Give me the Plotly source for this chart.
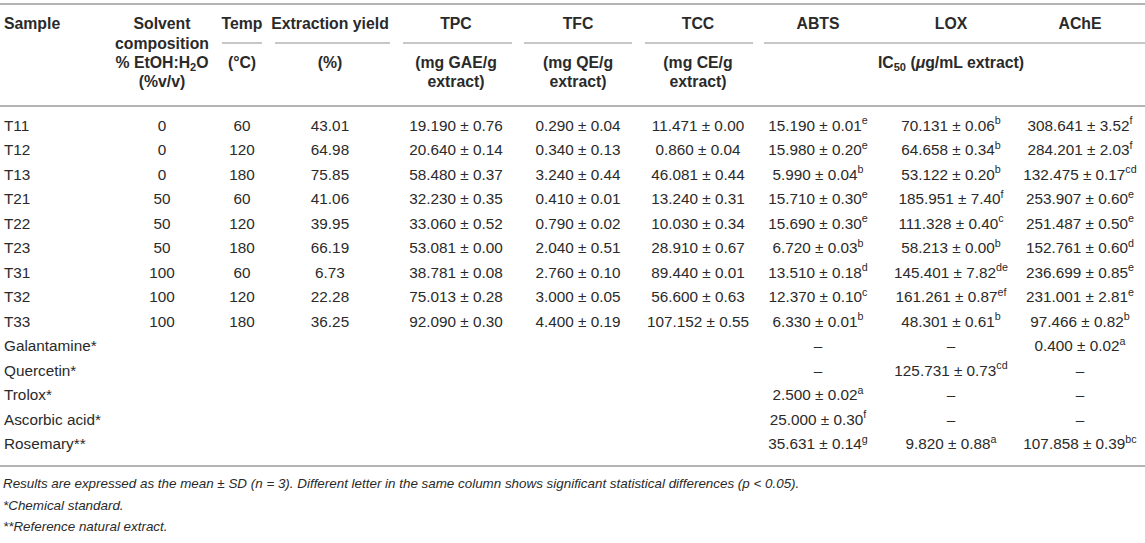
import plotly.graph_objects as go

# table values
samples = ["T11", "T12", "T13", "T21", "T22", "T23", "T31", "T32", "T33"]
standards = ["Galantamine*", "Quercetin*", "Trolox*", "Ascorbic acid*", "Rosemary**"]
solvent = [0, 0, 0, 50, 50, 50, 100, 100, 100]
temp = [60, 120, 180, 60, 120, 180, 60, 120, 180]
ext_yield = [43.01, 64.98, 75.85, 41.06, 39.95, 66.19, 6.73, 22.28, 36.25]

tpc_mean = [19.190, 20.640, 58.480, 32.230, 33.060, 53.081, 38.781, 75.013, 92.090]
tpc_sd = [0.76, 0.14, 0.37, 0.35, 0.52, 0.00, 0.08, 0.28, 0.30]
tfc_mean = [0.290, 0.340, 3.240, 0.410, 0.790, 2.040, 2.760, 3.000, 4.400]
tfc_sd = [0.04, 0.13, 0.44, 0.01, 0.02, 0.51, 0.10, 0.05, 0.19]
tcc_mean = [11.471, 0.860, 46.081, 13.240, 10.030, 28.910, 89.440, 56.600, 107.152]
tcc_sd = [0.00, 0.04, 0.44, 0.31, 0.34, 0.67, 0.01, 0.63, 0.55]

# IC50 columns: samples followed by the 5 standards (None = not tested, shown as a dash)
abts_mean = [15.190, 15.980, 5.990, 15.710, 15.690, 6.720, 13.510, 12.370, 6.330,
             None, None, 2.500, 25.000, 35.631]
abts_sd = [0.01, 0.20, 0.04, 0.30, 0.30, 0.03, 0.18, 0.10, 0.01,
           None, None, 0.02, 0.30, 0.14]
abts_let = ["e", "e", "b", "e", "e", "b", "d", "c", "b", None, None, "a", "f", "g"]
lox_mean = [70.131, 64.658, 53.122, 185.951, 111.328, 58.213, 145.401, 161.261, 48.301,
            None, 125.731, None, None, 9.820]
lox_sd = [0.06, 0.34, 0.20, 7.40, 0.40, 0.00, 7.82, 0.87, 0.61,
          None, 0.73, None, None, 0.88]
lox_let = ["b", "b", "b", "f", "c", "b", "de", "ef", "b", None, "cd", None, None, "a"]
ache_mean = [308.641, 284.201, 132.475, 253.907, 251.487, 152.761, 236.699, 231.001, 97.466,
             0.400, None, None, None, 107.858]
ache_sd = [3.52, 2.03, 0.17, 0.60, 0.50, 0.60, 0.85, 2.81, 0.82,
           0.02, None, None, None, 0.39]
ache_let = ["f", "f", "cd", "e", "e", "d", "e", "e", "b", "a", None, None, None, "bc"]

footnotes = [
    "Results are expressed as the mean ± SD (n = 3). Different letter in the same column "
    "shows significant statistical differences (p &lt; 0.05).",
    "*Chemical standard.",
    "**Reference natural extract.",
]

FONT = "Liberation Sans, Arial, Helvetica, sans-serif"
TXT = "#2a2a2a"
RULE = "#b4b4b4"
FS = 15.3
FS_HEAD = 15.8
FS_NOTE = 13.4

# column centres (px) and row geometry
COL = dict(solvent=162, temp=242, ext=330, tpc=456, tfc=578, tcc=698,
           abts=818, lox=951, ache=1080)
LEFT = 3
ROW0, ROW_H = 127, 24.5
HL = [25, 45, 64, 83]  # header text lines


def pm(m, s, let=None):
    if m is None:
        return "–"
    t = f"{m:.3f} ± {s:.2f}"
    if let:
        t += f"<sup>{let}</sup>"
    return t


all_rows = samples + standards
row_y = [ROW0 + i * ROW_H for i in range(len(all_rows))]
ns = len(samples)

fig = go.Figure()


def add_col(x, ys, texts, pos="middle center", size=FS, weight="normal", style="normal"):
    fig.add_trace(go.Scatter(
        x=[x] * len(ys), y=ys, text=texts, mode="text", textposition=pos,
        textfont=dict(family=FONT, size=size, color=TXT, weight=weight, style=style),
        cliponaxis=False, hoverinfo="skip", showlegend=False))


# body
add_col(LEFT + 1, row_y, all_rows, pos="middle right")
add_col(COL["solvent"], row_y[:ns], [str(v) for v in solvent])
add_col(COL["temp"], row_y[:ns], [str(v) for v in temp])
add_col(COL["ext"], row_y[:ns], [f"{v:.2f}" for v in ext_yield])
add_col(COL["tpc"], row_y[:ns], [pm(m, s) for m, s in zip(tpc_mean, tpc_sd)])
add_col(COL["tfc"], row_y[:ns], [pm(m, s) for m, s in zip(tfc_mean, tfc_sd)])
add_col(COL["tcc"], row_y[:ns], [pm(m, s) for m, s in zip(tcc_mean, tcc_sd)])
add_col(COL["abts"], row_y, [pm(*v) for v in zip(abts_mean, abts_sd, abts_let)])
add_col(COL["lox"], row_y, [pm(*v) for v in zip(lox_mean, lox_sd, lox_let)])
add_col(COL["ache"], row_y, [pm(*v) for v in zip(ache_mean, ache_sd, ache_let)])

# header
hb = dict(weight="bold", size=FS_HEAD)
add_col(LEFT + 1, [HL[0]], ["Sample"], pos="middle right", **hb)
add_col(COL["solvent"], HL, ["Solvent", "composition", "% EtOH:H<sub>2</sub>O", "(%v/v)"], **hb)
add_col(COL["temp"], [HL[0], HL[2]], ["Temp", "(°C)"], **hb)
add_col(COL["ext"], [HL[0], HL[2]], ["Extraction yield", "(%)"], **hb)
add_col(COL["tpc"], [HL[0], HL[2], HL[3]], ["TPC", "(mg GAE/g", "extract)"], **hb)
add_col(COL["tfc"], [HL[0], HL[2], HL[3]], ["TFC", "(mg QE/g", "extract)"], **hb)
add_col(COL["tcc"], [HL[0], HL[2], HL[3]], ["TCC", "(mg CE/g", "extract)"], **hb)
add_col(COL["abts"], [HL[0]], ["ABTS"], **hb)
add_col(COL["lox"], [HL[0]], ["LOX"], **hb)
add_col(COL["ache"], [HL[0]], ["AChE"], **hb)
add_col(COL["lox"], [HL[2]], ["IC<sub>50</sub> (<i>μ</i>g/mL extract)"], **hb)

# footnotes
add_col(LEFT, [485, 507, 528], footnotes, pos="middle right", size=FS_NOTE, style="italic")

# rules
rules = [(0, 1145, 4), (0, 1145, 106), (0, 1145, 466),
         (222, 262, 43), (275, 390, 43), (403, 512, 43), (524, 632, 43),
         (645, 753, 43), (764, 1145, 43)]
for x0, x1, y in rules:
    fig.add_shape(type="line", x0=x0, x1=x1, y0=y, y1=y, xref="x", yref="y",
                  line=dict(color=RULE, width=2 if y in (4, 106, 466) else 1.5))

fig.update_layout(
    width=1145, height=543, margin=dict(l=0, r=0, t=0, b=0),
    paper_bgcolor="white", plot_bgcolor="white",
    xaxis=dict(range=[0, 1145], visible=False, fixedrange=True),
    yaxis=dict(range=[543, 0], visible=False, fixedrange=True),
)

# drop the browser's default 8px body margin so the figure sits at the window corner
fig.write_html("out.html", config={"displayModeBar": False},
               post_script="document.body.style.margin='0';")
